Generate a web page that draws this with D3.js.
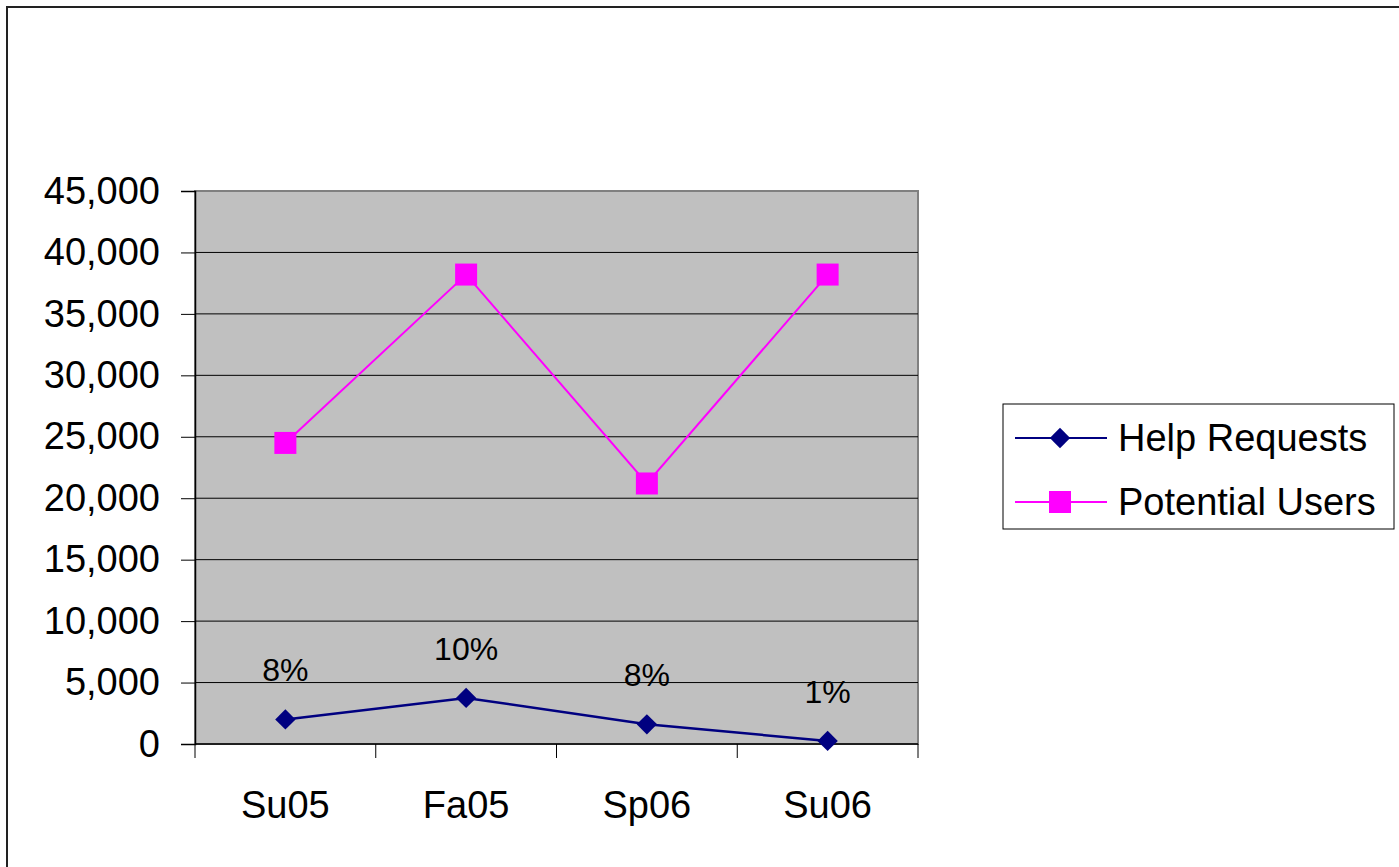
<!DOCTYPE html>
<html>
<head>
<meta charset="utf-8">
<script src="https://cdn.jsdelivr.net/npm/d3@7"></script>
<style>
  html, body { margin: 0; padding: 0; background: #fff; }
  svg { display: block; font-family: "Liberation Sans", Arial, sans-serif; }
</style>
</head>
<body>
<svg id="chart" width="1399" height="867"></svg>
<script>
// Terms and series values
const terms = ["Su05", "Fa05", "Sp06", "Su06"];
const helpRequests = [2000, 3750, 1600, 250];
const potentialUsers = [24500, 38200, 21200, 38200];
const ratioLabels = ["8%", "10%", "8%", "1%"];
const yTicks = [0, 5000, 10000, 15000, 20000, 25000, 30000, 35000, 40000, 45000];
const seriesNames = ["Help Requests", "Potential Users"];

const svg = d3.select("#chart");
const plot = { left: 195, right: 918, top: 191, bottom: 744 };

// Outer chart frame (right and bottom edges fall outside the view)
svg.append("rect")
  .attr("x", 7).attr("y", 7)
  .attr("width", 1600).attr("height", 1200)
  .attr("fill", "#fff").attr("stroke", "#222").attr("stroke-width", 2);

const x = d3.scaleBand().domain(terms).range([plot.left, plot.right]).paddingInner(0).paddingOuter(0);
const y = d3.scaleLinear().domain([0, 45000]).range([plot.bottom, plot.top]);
const cx = d => x(d) + x.bandwidth() / 2;

// Plot area background
svg.append("rect")
  .attr("x", plot.left).attr("y", plot.top)
  .attr("width", plot.right - plot.left).attr("height", plot.bottom - plot.top)
  .attr("fill", "#c0c0c0").attr("stroke", "#808080").attr("stroke-width", 2);

// Horizontal gridlines
svg.append("g").selectAll("line")
  .data(yTicks.filter(t => t > 0 && t < 45000))
  .join("line")
  .attr("x1", plot.left).attr("x2", plot.right)
  .attr("y1", d => y(d)).attr("y2", d => y(d))
  .attr("stroke", "#000").attr("stroke-width", 1);

// Y axis
const yAxis = svg.append("g")
  .attr("transform", `translate(${plot.left},0)`)
  .call(d3.axisLeft(y).tickValues(yTicks).tickFormat(d3.format(",")).tickSize(14).tickPadding(21));
yAxis.select(".domain").attr("stroke", "#000").attr("stroke-width", 1.5);
yAxis.selectAll(".tick line").attr("stroke", "#000");
yAxis.selectAll(".tick text").attr("font-size", 38).attr("fill", "#000")
  .attr("font-family", "'Liberation Sans', Arial, sans-serif");

// X axis: labels centred in each band, ticks at band boundaries
const xAxis = svg.append("g")
  .attr("transform", `translate(0,${plot.bottom})`)
  .call(d3.axisBottom(x).tickSize(0).tickPadding(47));
xAxis.select(".domain").remove();
xAxis.selectAll(".tick text").attr("font-size", 38).attr("fill", "#000")
  .attr("font-family", "'Liberation Sans', Arial, sans-serif");

const boundaries = terms.map(t => x(t)).concat([x.range()[1]]);
svg.append("g").selectAll("line")
  .data(boundaries)
  .join("line")
  .attr("x1", d => d).attr("x2", d => d)
  .attr("y1", plot.bottom).attr("y2", plot.bottom + 14)
  .attr("stroke", "#000");
svg.append("line")
  .attr("x1", plot.left).attr("x2", plot.right)
  .attr("y1", plot.bottom).attr("y2", plot.bottom)
  .attr("stroke", "#000").attr("stroke-width", 1.5);

const line = d3.line().x((d, i) => cx(terms[i])).y(d => y(d));

// Potential Users series
svg.append("path").datum(potentialUsers)
  .attr("d", line).attr("fill", "none")
  .attr("stroke", "#ff00ff").attr("stroke-width", 2);
svg.append("g").selectAll("rect")
  .data(potentialUsers)
  .join("rect")
  .attr("x", (d, i) => cx(terms[i]) - 11).attr("y", d => y(d) - 11)
  .attr("width", 22).attr("height", 22)
  .attr("fill", "#ff00ff");

// Help Requests series
const diamond = d3.symbol().type(d3.symbolDiamond2).size(265);
svg.append("path").datum(helpRequests)
  .attr("d", line).attr("fill", "none")
  .attr("stroke", "#000080").attr("stroke-width", 2.5);
svg.append("g").selectAll("path")
  .data(helpRequests)
  .join("path")
  .attr("d", diamond)
  .attr("transform", (d, i) => `translate(${cx(terms[i])},${y(d)})`)
  .attr("fill", "#000080");

// Ratio labels above the Help Requests points
svg.append("g").selectAll("text")
  .data(helpRequests)
  .join("text")
  .attr("x", (d, i) => cx(terms[i]))
  .attr("y", d => y(d) - 38)
  .attr("text-anchor", "middle")
  .attr("font-size", 32)
  .attr("fill", "#000")
  .text((d, i) => ratioLabels[i]);

// Legend
const legend = svg.append("g");
legend.append("rect")
  .attr("x", 1003).attr("y", 404).attr("width", 391).attr("height", 125)
  .attr("fill", "#fff").attr("stroke", "#000").attr("stroke-width", 1);
const legendRows = [
  { name: seriesNames[0], color: "#000080", mark: "diamond", y: 438 },
  { name: seriesNames[1], color: "#ff00ff", mark: "square", y: 502 }
];
legendRows.forEach(r => {
  legend.append("line")
    .attr("x1", 1015).attr("x2", 1107).attr("y1", r.y).attr("y2", r.y)
    .attr("stroke", r.color).attr("stroke-width", 2);
  if (r.mark === "diamond") {
    legend.append("path").attr("d", diamond)
      .attr("transform", `translate(1060,${r.y})`).attr("fill", r.color);
  } else {
    legend.append("rect")
      .attr("x", 1049).attr("y", r.y - 11).attr("width", 22).attr("height", 22)
      .attr("fill", r.color);
  }
  legend.append("text")
    .attr("x", 1118).attr("y", r.y + 13)
    .attr("font-size", 38).attr("fill", "#000")
    .text(r.name);
});
</script>
</body>
</html>
